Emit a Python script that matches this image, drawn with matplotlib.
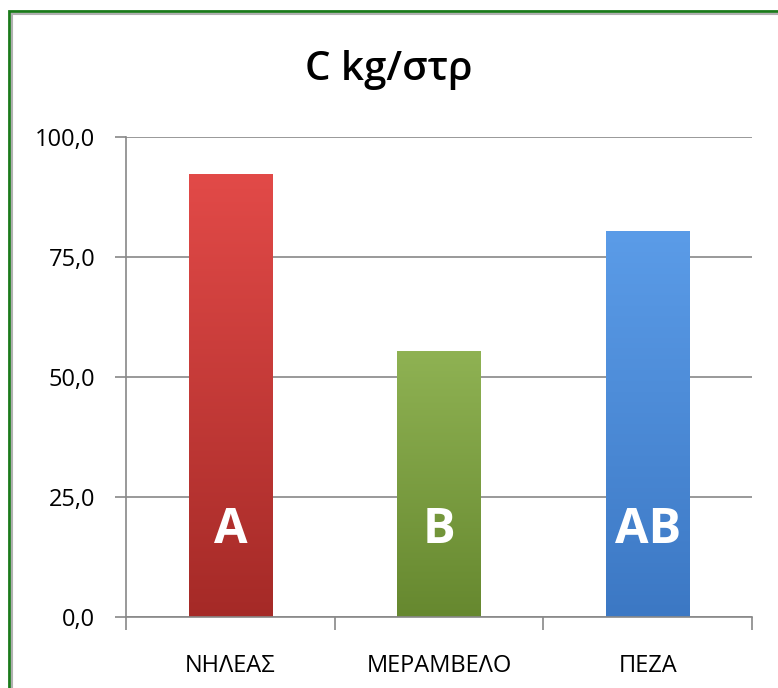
import numpy as np
import matplotlib
matplotlib.use("Agg")
import matplotlib.pyplot as plt
from matplotlib.patches import Rectangle
from matplotlib.colors import LinearSegmentedColormap

plt.rcParams['font.family'] = ['Open Sans', 'DejaVu Sans']

categories = ['ΝΗΛΕΑΣ', 'ΜΕΡΑΜΒΕΛΟ', 'ΠΕΖΑ']
values = [92.2, 55.3, 80.4]
letters = ['A', 'B', 'AB']
yticks = [0, 25, 50, 75, 100]
ytick_labels = ['0,0', '25,0', '50,0', '75,0', '100,0']

# top / bottom shade of every bar
top_colors = ['#e24a48', '#8fb253', '#5b9ce8']
bottom_colors = ['#a52a27', '#66882f', '#3c78c4']

fig = plt.figure(figsize=(7.78, 6.88), dpi=100)
ax = fig.add_axes([0.162, 0.1032, 0.8046, 0.698])

x = np.arange(len(categories))
bars = ax.bar(x, values, width=0.4, color=top_colors, zorder=2)

# vertical gradient inside each bar
grad = np.linspace(0, 1, 256).reshape(-1, 1)
for b, c_top, c_bot in zip(bars, top_colors, bottom_colors):
    cmap = LinearSegmentedColormap.from_list('g', [c_bot, c_top])
    x0, y0 = b.get_x(), b.get_y()
    im = ax.imshow(grad, cmap=cmap, aspect='auto', origin='lower',
                   extent=[x0, x0 + b.get_width(), y0, y0 + b.get_height()],
                   zorder=2.5)
    im.set_clip_path(b)
    b.set_edgecolor('none')

for xi, lab in zip(x, letters):
    ax.text(xi, 18.0, lab, ha='center', va='center', color='white',
            fontsize=35, fontweight='bold', zorder=4)

ax.set_xlim(-0.5, 2.5)
ax.set_ylim(0, 100)
ax.set_yticks(yticks)
ax.set_yticklabels(ytick_labels, fontsize=17)
ax.set_xticks(x)
ax.set_xticklabels(categories, fontsize=17)
ax.set_xticks([-0.5, 0.5, 1.5, 2.5], minor=True)
ax.tick_params(axis='x', which='major', length=0, pad=27)
ax.tick_params(axis='x', which='minor', length=9, color='#888888', width=1.2)
ax.tick_params(axis='y', length=8, color='#888888', width=1.2, pad=14)

ax.yaxis.grid(True, color='#888888', linewidth=1.2, zorder=0)
ax.set_axisbelow(True)
for s in ['top', 'right']:
    ax.spines[s].set_visible(False)
for s in ['left', 'bottom']:
    ax.spines[s].set_color('#888888')
    ax.spines[s].set_linewidth(1.2)

fig.text(0.5, 0.898, 'C kg/στρ', ha='center', va='center',
         fontsize=29, fontweight='semibold')

# outer frame of the picture
W, H = 778, 688
fig.add_artist(Rectangle((8.5 / W, -0.1), 2, 1.1 - 10.5 / H,
                         transform=fig.transFigure, fill=False,
                         edgecolor='#1a7a1a', linewidth=2))
fig.add_artist(Rectangle((12 / W, -0.1), 2, 1.1 - 14 / H,
                         transform=fig.transFigure, fill=False,
                         edgecolor='#b0b0b0', linewidth=1.5))

fig.savefig('out.png', dpi=100)
